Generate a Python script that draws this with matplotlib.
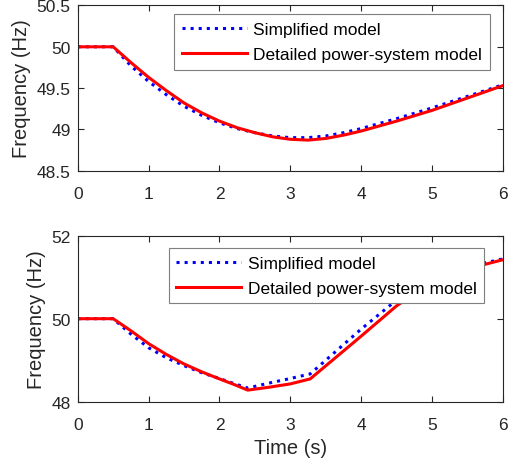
import matplotlib
matplotlib.use("Agg")
import matplotlib.pyplot as plt

plt.rcParams["font.family"] = ["Liberation Sans", "DejaVu Sans"]

# upper panel
t_top = [0, 0.5, 0.75, 1.0, 1.25, 1.5, 1.75, 2.0, 2.25, 2.5, 2.75, 3.0,
         3.25, 3.5, 3.75, 4.0, 4.5, 5.0, 5.5, 6.0]
simp_top = [50, 50, 49.77, 49.58, 49.42, 49.28, 49.17, 49.08, 49.01, 48.96,
            48.92, 48.90, 48.90, 48.92, 48.96, 49.01, 49.13, 49.26, 49.40, 49.54]
det_top = [50, 50, 49.81, 49.63, 49.47, 49.32, 49.20, 49.10, 49.02, 48.96,
           48.91, 48.88, 48.87, 48.89, 48.93, 48.98, 49.10, 49.23, 49.38, 49.53]

# lower panel
t_bot = [0, 0.5, 0.75, 1.0, 1.25, 1.5, 1.75, 2.0, 2.2, 2.4, 2.7, 3.0,
         3.28, 4.0, 4.5, 5.0, 5.5, 6.0]
simp_bot = [50, 50, 49.63, 49.30, 49.06, 48.87, 48.70, 48.56, 48.44, 48.33,
            48.45, 48.56, 48.67, 49.75, 50.45, 51.00, 51.25, 51.44]
det_bot = [50, 50, 49.71, 49.40, 49.14, 48.91, 48.72, 48.55, 48.42, 48.28,
           48.35, 48.43, 48.55, 49.58, 50.31, 50.90, 51.20, 51.42]

labels = ["Simplified model", "Detailed power-system model"]
TXT = "#262626"

fig = plt.figure(figsize=(5.08, 4.64), dpi=100)
ax1 = fig.add_axes([0.153, 0.630, 0.837, 0.356])
ax2 = fig.add_axes([0.153, 0.132, 0.837, 0.358])


def style(ax, yticks, ylim):
    ax.set_xlim(0, 6)
    ax.set_ylim(*ylim)
    ax.set_xticks(range(7))
    ax.set_yticks(yticks)
    ax.tick_params(direction="in", length=4, width=0.8, top=True, right=True,
                   labelsize=12.5, colors=TXT)
    ax.tick_params(axis="x", pad=11)
    ax.tick_params(axis="y", pad=5)
    for s in ax.spines.values():
        s.set_color(TXT)
        s.set_linewidth(0.8)
    ax.set_ylabel("Frequency (Hz)", fontsize=14.5, color=TXT, labelpad=4)


for ax, t, s, d, anchor in [
    (ax1, t_top, simp_top, det_top, (0.970, 0.948)),
    (ax2, t_bot, simp_bot, det_bot, (0.956, 0.926)),
]:
    ax.plot(t, s, color="blue", linestyle=":", linewidth=2.2, label=labels[0])
    ax.plot(t, d, color="red", linestyle="-", linewidth=2.2, label=labels[1])
    leg = ax.legend(loc="upper right", bbox_to_anchor=anchor, fontsize=12.5,
                    fancybox=False, framealpha=1, edgecolor="#7f7f7f",
                    handlelength=3.7, handletextpad=0.4, borderpad=0.45,
                    labelspacing=0.55, borderaxespad=0)
    leg.get_frame().set_linewidth(0.8)

style(ax1, [48.5, 49, 49.5, 50, 50.5], (48.5, 50.5))
ax1.set_yticklabels(["48.5", "49", "49.5", "50", "50.5"])
style(ax2, [48, 50, 52], (48, 52))
ax2.set_xlabel("Time (s)", fontsize=14.5, color=TXT, labelpad=4)

fig.savefig("out.png", dpi=100)
